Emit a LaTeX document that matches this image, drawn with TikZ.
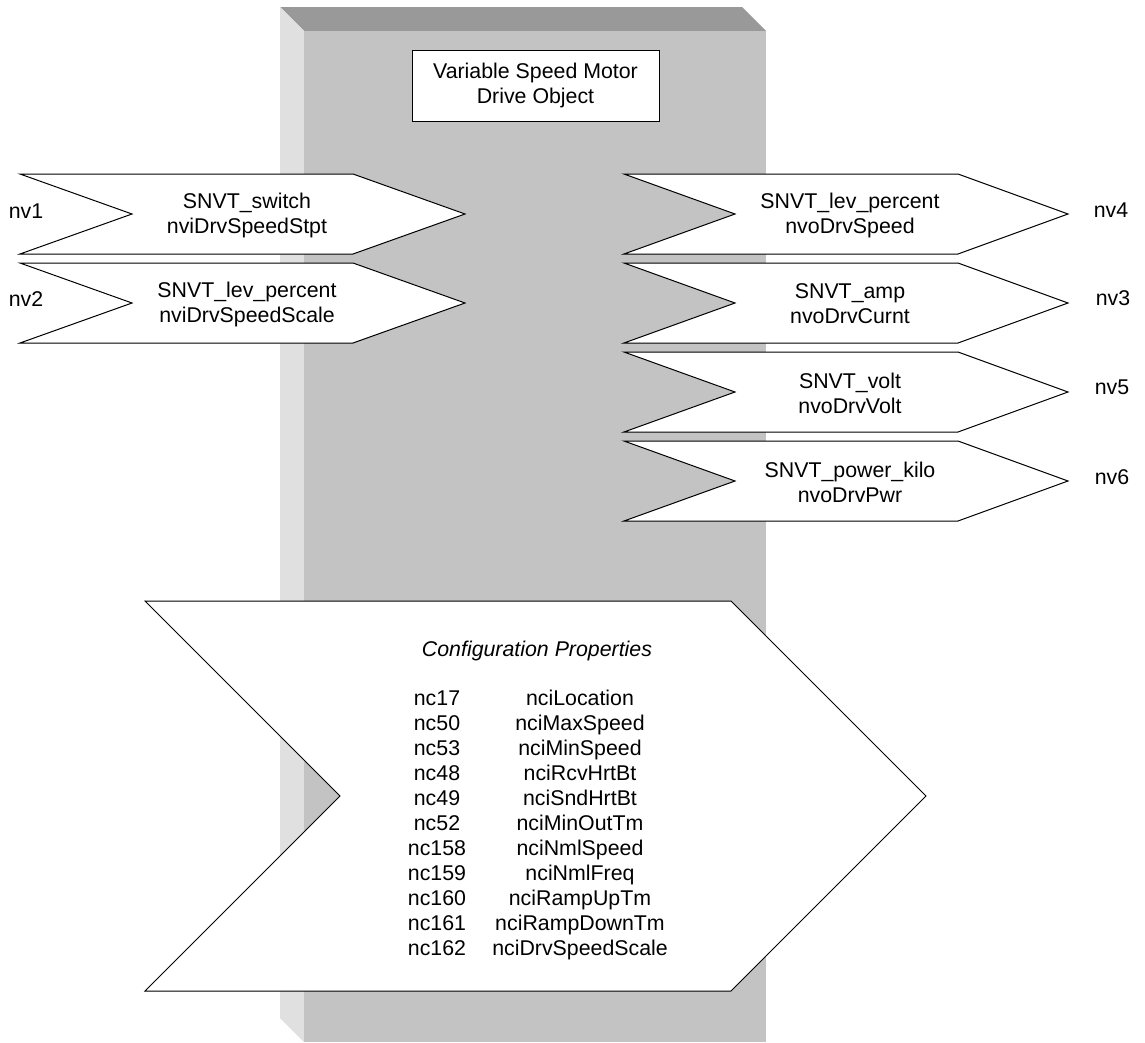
\documentclass[tikz,border=0pt]{standalone}
\usepackage{fontspec}
\setmainfont{Liberation Sans}
\begin{document}
\begin{tikzpicture}[x=0.75pt,y=-0.75pt,
  font=\fontsize{16}{18.75}\selectfont,
  shp/.style={draw=black, fill=white, line width=0.75pt, line join=miter},
  lbl/.style={inner sep=0pt, align=center},
  rowtxt/.style={inner sep=0pt, anchor=base}
]
\definecolor{topgray}{RGB}{153,153,153}
\definecolor{sidegray}{RGB}{224,224,224}
\definecolor{frontgray}{RGB}{195,195,195}
\useasboundingbox (0,0) rectangle (1145,1042);
% 3D object block
\fill[topgray] (280,7) -- (742,7) -- (766,31) -- (304,31) -- cycle;
\fill[sidegray] (280,7) -- (304,31) -- (304,1042) -- (280,1018) -- cycle;
\fill[frontgray] (304,31) rectangle (766,1042);
% title
\node (title) [draw=black, fill=white, line width=0.75pt, minimum width=185.25pt,
  minimum height=53.25pt, align=center, inner sep=0pt] at (535.5,85.5)
  {Variable Speed Motor\\Drive Object};
% input arrows
\foreach \t/\nm in {174/a1, 263/a2}{
  \path[shp] (20,\t) -- (353,\t) -- (465,\t+40) -- (353,\t+80) -- (20,\t+80) -- (132,\t+40) -- cycle;
}
\node (in1) [lbl] at (247,215) {SNVT\_switch\\nviDrvSpeedStpt};
\node (in2) [lbl] at (247,304) {SNVT\_lev\_percent\\nviDrvSpeedScale};
\node (nv1) [lbl] at (26,211) {nv1};
\node (nv2) [lbl] at (26,299) {nv2};
% output arrows
\foreach \t in {174, 263, 352, 441}{
  \path[shp] (624,\t) -- (958,\t) -- (1068,\t+40) -- (958,\t+80) -- (624,\t+80) -- (735,\t+40) -- cycle;
}
\node (out4) [lbl] at (850,215) {SNVT\_lev\_percent\\nvoDrvSpeed};
\node (out3) [lbl] at (850,304) {SNVT\_amp\\nvoDrvCurnt};
\node (out5) [lbl] at (850,393) {SNVT\_volt\\nvoDrvVolt};
\node (out6) [lbl] at (850,482) {SNVT\_power\_kilo\\nvoDrvPwr};
\node (nv4) [lbl] at (1111,210) {nv4};
\node (nv3) [lbl] at (1113,298) {nv3};
\node (nv5) [lbl] at (1112,387) {nv5};
\node (nv6) [lbl] at (1112,477) {nv6};
% configuration properties
\path[shp] (145,601) -- (731,601) -- (926,796) -- (731,991) -- (145,991) -- (340,796) -- cycle;
\node (cfg) [rowtxt] at (537,656) {\itshape Configuration Properties};
\foreach \i/\a/\b in {0/nc17/nciLocation, 1/nc50/nciMaxSpeed, 2/nc53/nciMinSpeed,
  3/nc48/nciRcvHrtBt, 4/nc49/nciSndHrtBt, 5/nc52/nciMinOutTm, 6/nc158/nciNmlSpeed,
  7/nc159/nciNmlFreq, 8/nc160/nciRampUpTm, 9/nc161/nciRampDownTm, 10/nc162/nciDrvSpeedScale}{
  \node (id\i) [rowtxt] at (437,705+25*\i) {\a};
  \node (nm\i) [rowtxt] at (580,705+25*\i) {\b};
}
\end{tikzpicture}
\end{document}
